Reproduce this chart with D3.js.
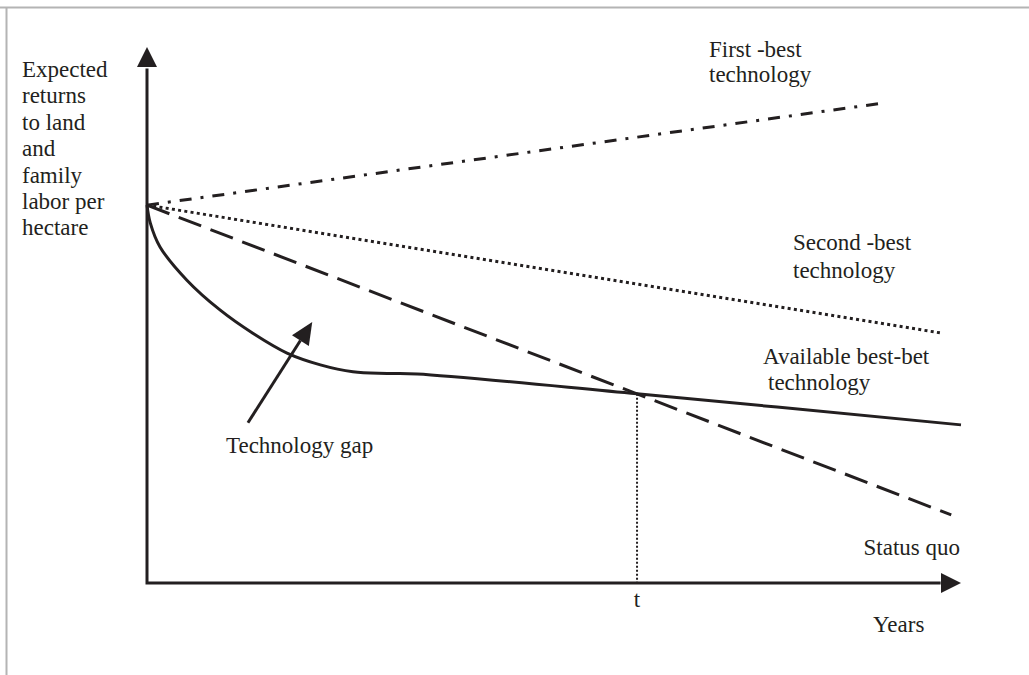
<!DOCTYPE html>
<html>
<head>
<meta charset="utf-8">
<script src="https://cdn.jsdelivr.net/npm/d3@7"></script>
<style>
body { margin: 0; background: #fff; }
svg text { font-family: "Liberation Serif", "Times New Roman", serif; font-size: 23px; fill: #231f20; }
</style>
</head>
<body>
<div id="canvas"></div>
<script>
// ----------------------------------------------------------
// DATA -----------------------------------------------------
// ----------------------------------------------------------
// x = years (0..100 of axis), y = expected returns (0..100 of axis)
var origin = [0, 70.5];
var first_best_end = [90.7, 89.6];
var second_best_end = [97.7, 46.6];
var status_quo_end = [98.8, 12.7];
var available_x = [0, 0.4, 1.6, 4.9, 9.0, 13.0, 17.2, 21.3, 25.3, 29.5, 33.2, 60.2, 100];
var available_y = [70.5, 67.2, 62.7, 56.5, 50.9, 46.6, 42.9, 40.7, 39.4, 39.1, 39.0, 35.3, 29.5];
var t_value = 60.2;
var gap_arrow = [[12.4, 29.9], [20.3, 48.7]];
var y_label_lines = ["Expected", "returns", "to land", "and", "family", "labor per", "hectare"];

// ----------------------------------------------------------
// STRUCTURE ------------------------------------------------
// ----------------------------------------------------------
var W = 1029, H = 675;
var ink = "#231f20";

var svg = d3.select("#canvas").append("svg")
  .attr("width", W)
  .attr("height", H);

var x = d3.scaleLinear().domain([0, 100]).range([147, 961]);
var y = d3.scaleLinear().domain([0, 100]).range([583, 47]);

var line = d3.line().x(function(d) { return x(d[0]); }).y(function(d) { return y(d[1]); });

// frame (top and left only)
svg.append("line").attr("x1", 0).attr("x2", W).attr("y1", 7.5).attr("y2", 7.5)
  .attr("stroke", "#b4b4b4").attr("stroke-width", 2);
svg.append("line").attr("x1", 6.5).attr("x2", 6.5).attr("y1", 7).attr("y2", H)
  .attr("stroke", "#b4b4b4").attr("stroke-width", 2);

// ----------------------------------------------------------
// AXES -----------------------------------------------------
// ----------------------------------------------------------
svg.append("path")
  .attr("d", line([[0, 96], [0, 0], [97.5, 0]]))
  .attr("fill", "none").attr("stroke", ink).attr("stroke-width", 3);

// arrow heads
svg.append("path")
  .attr("d", "M" + x(0) + "," + y(100) + "L" + (x(0) - 10) + "," + (y(100) + 20) + "L" + (x(0) + 10) + "," + (y(100) + 20) + "Z")
  .attr("fill", ink);
svg.append("path")
  .attr("d", "M" + x(100) + "," + y(0) + "L" + (x(100) - 20) + "," + (y(0) - 10) + "L" + (x(100) - 20) + "," + (y(0) + 10) + "Z")
  .attr("fill", ink);

// ----------------------------------------------------------
// LINES ----------------------------------------------------
// ----------------------------------------------------------
svg.append("path")
  .attr("d", line([origin, first_best_end]))
  .attr("fill", "none").attr("stroke", ink).attr("stroke-width", 3)
  .attr("stroke-dasharray", "12,9,3,9");

svg.append("path")
  .attr("d", line([origin, second_best_end]))
  .attr("fill", "none").attr("stroke", ink).attr("stroke-width", 3)
  .attr("stroke-dasharray", "3,3.3");

svg.append("path")
  .attr("d", line([origin, status_quo_end]))
  .attr("fill", "none").attr("stroke", ink).attr("stroke-width", 3)
  .attr("stroke-dasharray", "24,10");

var available = available_x.map(function(v, i) { return [v, available_y[i]]; });
var smooth = d3.line()
  .x(function(d) { return x(d[0]); })
  .y(function(d) { return y(d[1]); })
  .curve(d3.curveCatmullRom.alpha(0.5));
svg.append("path")
  .attr("d", smooth(available))
  .attr("fill", "none").attr("stroke", ink).attr("stroke-width", 3);

// t marker
var t_y = available_y[available_x.indexOf(t_value)];
svg.append("path")
  .attr("d", line([[t_value, t_y], [t_value, 0]]))
  .attr("fill", "none").attr("stroke", ink).attr("stroke-width", 2)
  .attr("stroke-dasharray", "2,2");

// technology gap arrow
var ax0 = x(gap_arrow[0][0]), ay0 = y(gap_arrow[0][1]);
var ax1 = x(gap_arrow[1][0]), ay1 = y(gap_arrow[1][1]);
var ang = Math.atan2(ay1 - ay0, ax1 - ax0);
var hl = 22, hw = 10;
var bx = ax1 - hl * Math.cos(ang), by = ay1 - hl * Math.sin(ang);
svg.append("line")
  .attr("x1", ax0).attr("y1", ay0).attr("x2", bx).attr("y2", by)
  .attr("stroke", ink).attr("stroke-width", 3);
svg.append("path")
  .attr("d", "M" + ax1 + "," + ay1 +
    "L" + (bx + hw * Math.sin(ang)) + "," + (by - hw * Math.cos(ang)) +
    "L" + (bx - hw * Math.sin(ang)) + "," + (by + hw * Math.cos(ang)) + "Z")
  .attr("fill", ink);

// ----------------------------------------------------------
// TEXT -----------------------------------------------------
// ----------------------------------------------------------
svg.append("g").selectAll("text")
  .data(y_label_lines)
  .enter().append("text")
  .attr("x", 22)
  .attr("y", function(d, i) { return 77 + i * 26.4; })
  .text(function(d) { return d; });

function label(tx, ty, s, anchor) {
  svg.append("text").attr("x", tx).attr("y", ty)
    .attr("text-anchor", anchor || "start").text(s);
}
label(709, 57, "First -best");
label(709, 82, "technology");
label(793, 250, "Second -best");
label(793, 278, "technology");
label(763, 364, "Available best-bet");
label(768, 390, "technology");
label(960, 555, "Status quo", "end");
label(x(t_value), 607, "t", "middle");
label(873, 632, "Years");
label(226, 453, "Technology gap");
</script>
</body>
</html>
